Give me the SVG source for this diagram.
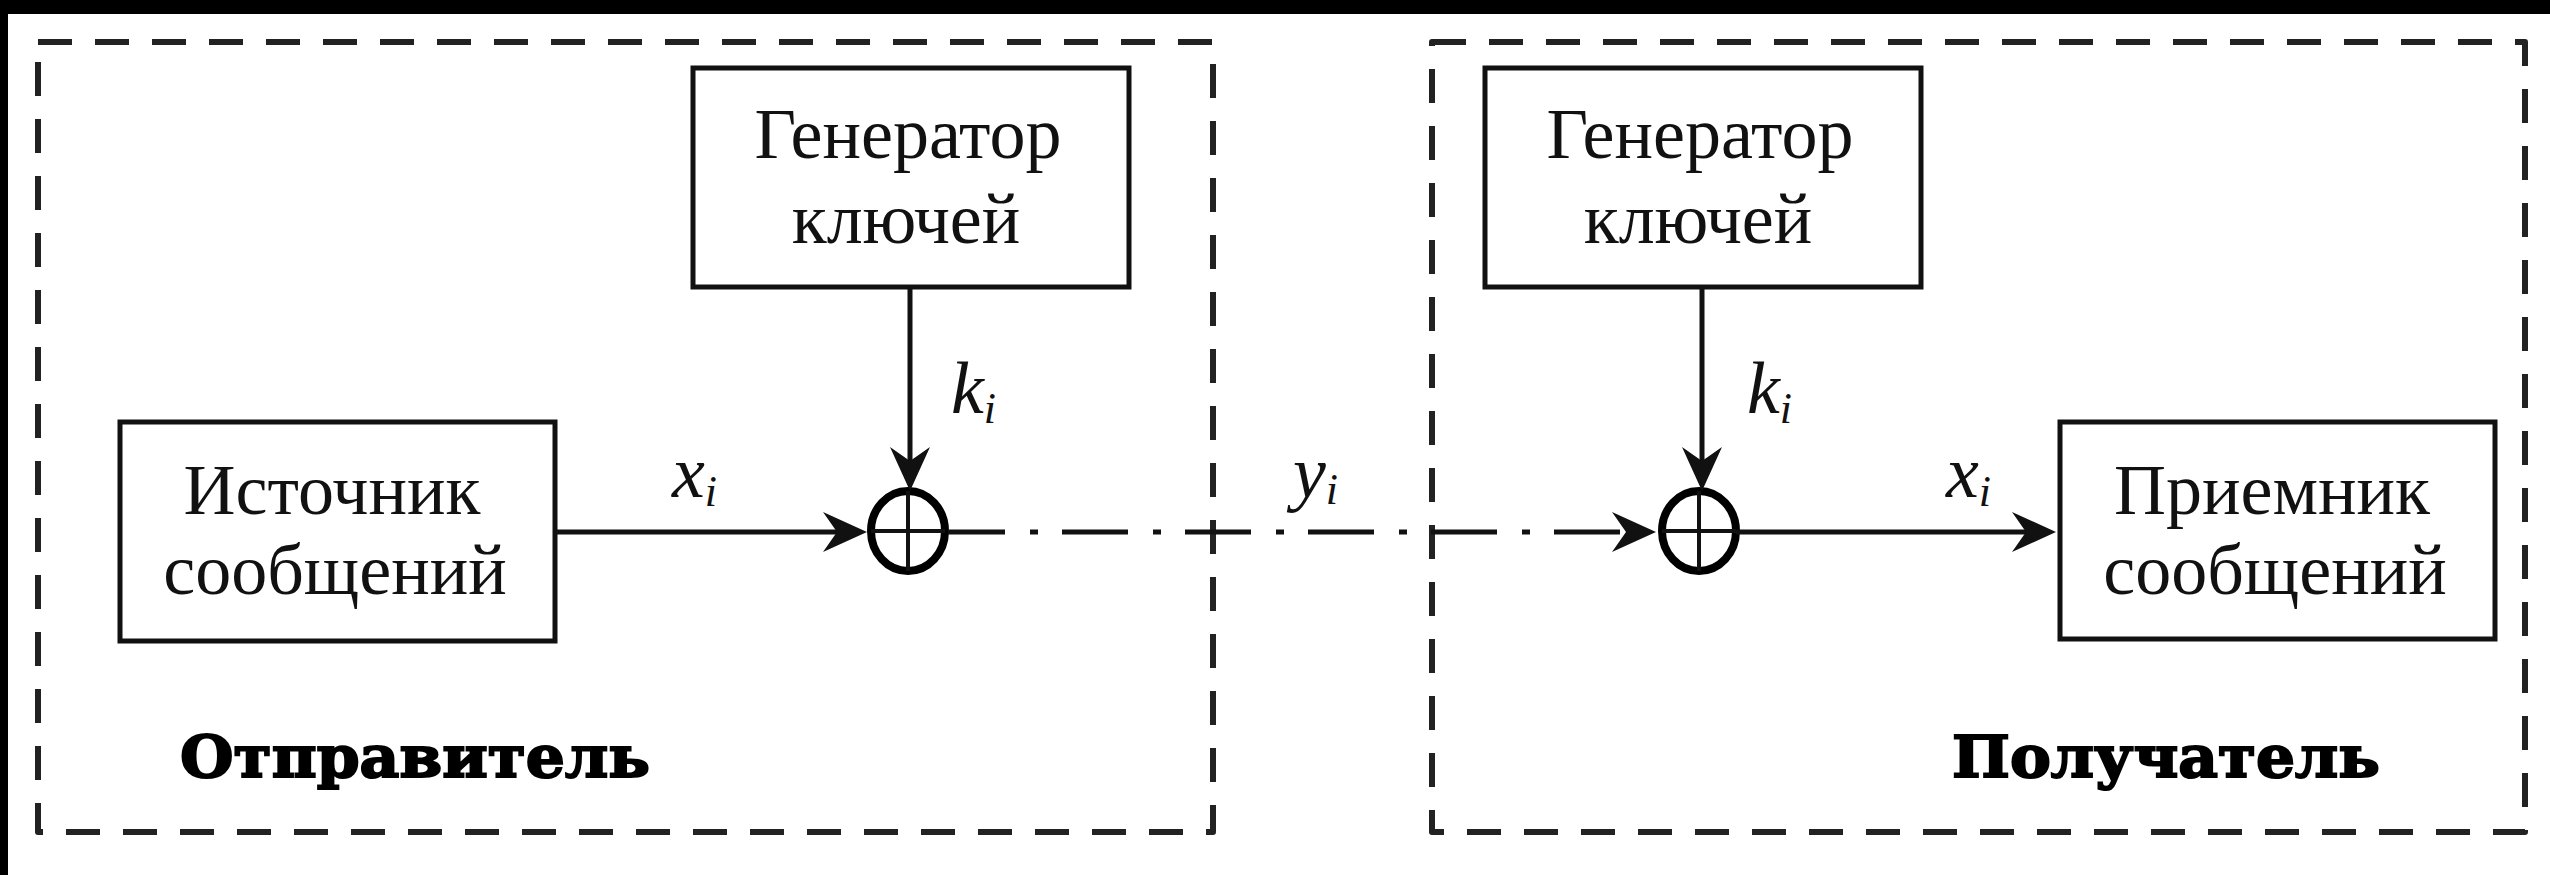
<svg xmlns="http://www.w3.org/2000/svg" width="2550" height="875" viewBox="0 0 2550 875">
<style>
.frame{fill:none;stroke:#222;stroke-width:6;stroke-dasharray:34 23;stroke-linejoin:round}
.box{fill:#fff;stroke:#111;stroke-width:5}
.lbl{font-family:"Liberation Serif","Times New Roman",serif;font-size:72px;fill:#111;text-anchor:middle}
.var{font-family:"Liberation Serif","Times New Roman",serif;font-style:italic;font-size:74px;fill:#111}
.sub{font-size:44px}
.side{font-family:"DejaVu Serif",serif;font-weight:bold;font-size:58px;fill:#000;stroke:#000;stroke-width:2}
.wire{fill:none;stroke:#111;stroke-width:5}
.ring{fill:none;stroke:#000;stroke-width:8}
.cross{stroke:#111;stroke-width:4}
</style>
<defs>
<marker id="arr" markerUnits="userSpaceOnUse" viewBox="-36 -22 48 44" markerWidth="48" markerHeight="44" refX="0" refY="0" orient="auto">
<path d="M10,0 L-34,-20 L-20,0 L-34,20 Z" fill="#111"/>
</marker>
</defs>
<rect x="0" y="0" width="2550" height="875" fill="#fff"/>
<rect x="0" y="0" width="2550" height="14" fill="#000"/>
<rect x="0" y="0" width="8" height="875" fill="#000"/>

<g id="sender">
<rect class="frame" x="38" y="42" width="1175" height="790"/>
<text class="side" x="180" y="777" textLength="470" lengthAdjust="spacingAndGlyphs">Отправитель</text>
</g>
<g id="receiver-side">
<rect class="frame" x="1432" y="42" width="1093" height="790"/>
<text class="side" x="1952" y="777" textLength="428" lengthAdjust="spacingAndGlyphs">Получатель</text>
</g>

<g id="keygen1">
<rect class="box" x="693" y="68" width="436" height="219"/>
<text class="lbl" x="908" y="158">Генератор</text>
<text class="lbl" x="906" y="243">ключей</text>
</g>
<g id="source">
<rect class="box" x="120" y="422" width="435" height="219"/>
<text class="lbl" x="332" y="514">Источник</text>
<text class="lbl" x="335" y="594">сообщений</text>
</g>
<g id="xor1">
<ellipse class="ring" cx="908" cy="531" rx="37" ry="40"/>
<line class="cross" x1="871" y1="531" x2="945" y2="531"/>
<line class="cross" x1="908" y1="491" x2="908" y2="571"/>
</g>
<g id="keygen2">
<rect class="box" x="1485" y="68" width="436" height="219"/>
<text class="lbl" x="1700" y="158">Генератор</text>
<text class="lbl" x="1698" y="243">ключей</text>
</g>
<g id="xor2">
<ellipse class="ring" cx="1699" cy="531" rx="37" ry="40"/>
<line class="cross" x1="1662" y1="531" x2="1736" y2="531"/>
<line class="cross" x1="1699" y1="491" x2="1699" y2="571"/>
</g>
<g id="sink">
<rect class="box" x="2060" y="422" width="435" height="217"/>
<text class="lbl" x="2272" y="514">Приемник</text>
<text class="lbl" x="2275" y="594">сообщений</text>
</g>

<g id="connectors">
<line class="wire" x1="555" y1="532" x2="857" y2="532" marker-end="url(#arr)"/>
<line class="wire" x1="910" y1="287" x2="910" y2="481" marker-end="url(#arr)"/>
<line class="wire" x1="948" y1="532" x2="1646" y2="532" stroke-dasharray="66 25 8 24" stroke-dashoffset="9" marker-end="url(#arr)"/>
<line class="wire" x1="1702" y1="287" x2="1702" y2="481" marker-end="url(#arr)"/>
<line class="wire" x1="1736" y1="532" x2="2046" y2="532" marker-end="url(#arr)"/>
</g>

<g id="labels">
<text class="var" x="672" y="497">x<tspan class="sub" dy="9">i</tspan></text>
<text class="var" x="951" y="413">k<tspan class="sub" dy="10">i</tspan></text>
<text class="var" x="1293" y="497">y<tspan class="sub" dy="7">i</tspan></text>
<text class="var" x="1747" y="413">k<tspan class="sub" dy="10">i</tspan></text>
<text class="var" x="1946" y="497">x<tspan class="sub" dy="9">i</tspan></text>
</g>
</svg>
